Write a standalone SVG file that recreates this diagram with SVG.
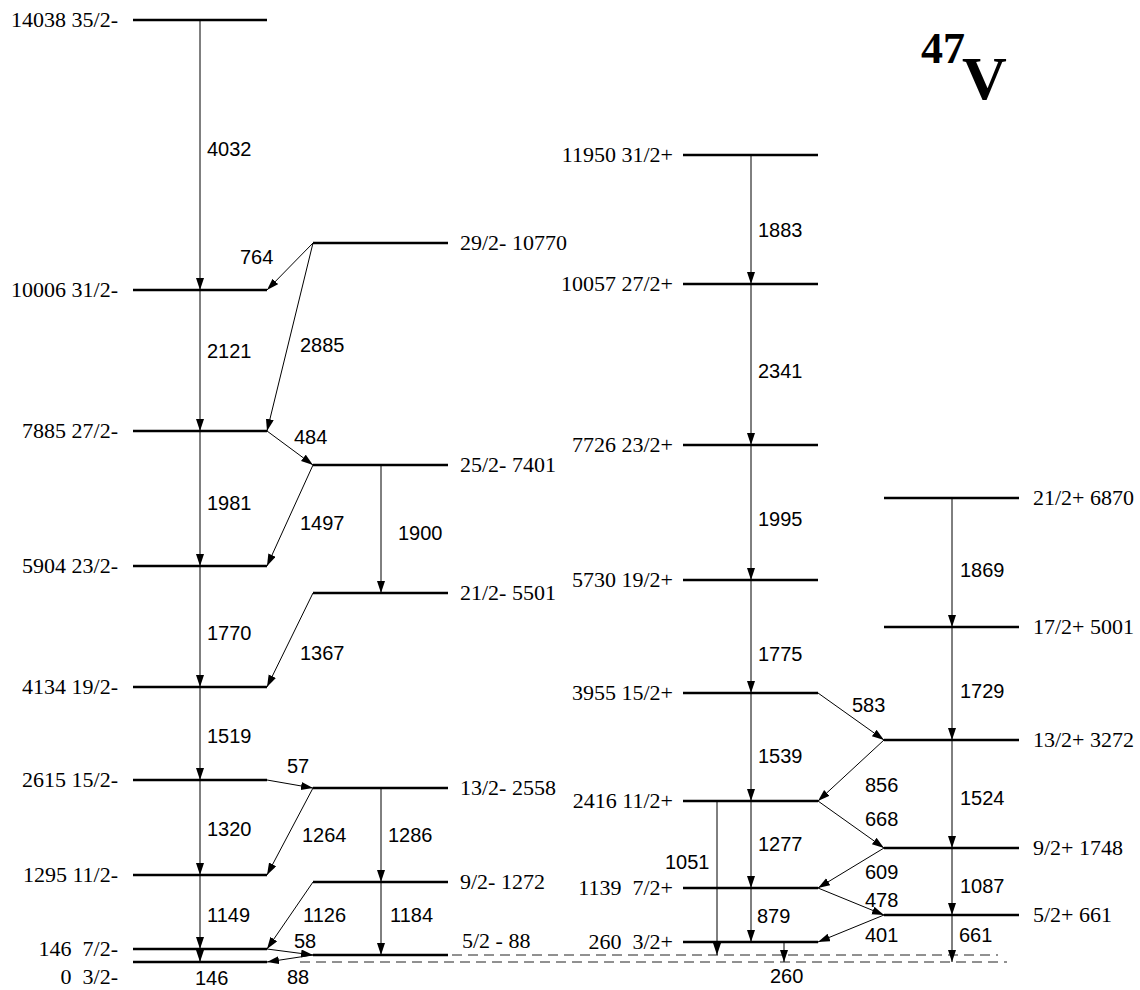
<svg xmlns="http://www.w3.org/2000/svg" width="1140" height="990" viewBox="0 0 1140 990">
<style>
.lv{stroke:#000;stroke-width:2.5;fill:none}
.g{stroke:#000;stroke-width:1;fill:none;marker-end:url(#ah)}
.d{stroke:#222;stroke-width:1;stroke-dasharray:10,6;fill:none}
.t{font-family:"Liberation Serif","Times New Roman",serif;font-size:22px;fill:#000}
.e{text-anchor:end}
.n{font-family:"Liberation Sans",Arial,sans-serif;font-size:20px;fill:#000}
</style>
<defs>
<marker id="ah" markerUnits="userSpaceOnUse" markerWidth="14" markerHeight="10" refX="12" refY="4" orient="auto">
<path d="M0,0 L12,4 L0,8 Z" fill="#000"/>
</marker>
</defs>
<rect width="1140" height="990" fill="#fff"/>
<g id="title">
<text x="921" y="63" font-family="Liberation Serif,serif" font-weight="bold" font-size="44">47</text>
<text x="962" y="99" font-family="Liberation Serif,serif" font-weight="bold" font-size="62">V</text>
</g>
<g id="levels-left">
<g id="L14038"><line class="lv" x1="133" y1="20" x2="267" y2="20"/><text class="t e" x="118" y="27">14038 35/2-</text></g>
<g id="L10006"><line class="lv" x1="133" y1="290" x2="267" y2="290"/><text class="t e" x="118" y="297">10006 31/2-</text></g>
<g id="L7885"><line class="lv" x1="133" y1="431" x2="267" y2="431"/><text class="t e" x="118" y="438">7885 27/2-</text></g>
<g id="L5904"><line class="lv" x1="133" y1="566" x2="267" y2="566"/><text class="t e" x="118" y="573">5904 23/2-</text></g>
<g id="L4134"><line class="lv" x1="133" y1="687" x2="267" y2="687"/><text class="t e" x="118" y="694">4134 19/2-</text></g>
<g id="L2615"><line class="lv" x1="133" y1="780" x2="267" y2="780"/><text class="t e" x="118" y="787">2615 15/2-</text></g>
<g id="L1295"><line class="lv" x1="133" y1="875" x2="267" y2="875"/><text class="t e" x="118" y="882">1295 11/2-</text></g>
<g id="L146"><line class="lv" x1="133" y1="949" x2="267" y2="949"/><text class="t e" x="118" y="956" xml:space="preserve">146  7/2-</text></g>
<g id="L0"><line class="lv" x1="133" y1="962" x2="267" y2="962"/><text class="t e" x="118" y="984" xml:space="preserve">0  3/2-</text></g>
</g>
<g id="levels-mid">
<g id="L10770"><line class="lv" x1="313" y1="243" x2="448" y2="243"/><text class="t" x="460" y="250">29/2- 10770</text></g>
<g id="L7401"><line class="lv" x1="313" y1="465" x2="448" y2="465"/><text class="t" x="460" y="472">25/2- 7401</text></g>
<g id="L5501"><line class="lv" x1="313" y1="593" x2="448" y2="593"/><text class="t" x="460" y="600">21/2- 5501</text></g>
<g id="L2558"><line class="lv" x1="313" y1="788" x2="448" y2="788"/><text class="t" x="460" y="795">13/2- 2558</text></g>
<g id="L1272"><line class="lv" x1="313" y1="882" x2="448" y2="882"/><text class="t" x="460" y="889">9/2- 1272</text></g>
<g id="L88"><line class="lv" x1="313" y1="955" x2="448" y2="955"/><text class="t" x="462" y="948">5/2 - 88</text></g>
</g>
<g id="levels-pos">
<g id="L11950"><line class="lv" x1="683" y1="155" x2="818" y2="155"/><text class="t e" x="673" y="162">11950 31/2+</text></g>
<g id="L10057"><line class="lv" x1="683" y1="284" x2="818" y2="284"/><text class="t e" x="673" y="291">10057 27/2+</text></g>
<g id="L7726"><line class="lv" x1="683" y1="445" x2="818" y2="445"/><text class="t e" x="673" y="452">7726 23/2+</text></g>
<g id="L5730"><line class="lv" x1="683" y1="580" x2="818" y2="580"/><text class="t e" x="673" y="587">5730 19/2+</text></g>
<g id="L3955"><line class="lv" x1="683" y1="693" x2="818" y2="693"/><text class="t e" x="673" y="700">3955 15/2+</text></g>
<g id="L2416"><line class="lv" x1="683" y1="801" x2="818" y2="801"/><text class="t e" x="673" y="808">2416 11/2+</text></g>
<g id="L1139"><line class="lv" x1="683" y1="888" x2="818" y2="888"/><text class="t e" x="673" y="895" xml:space="preserve">1139  7/2+</text></g>
<g id="L260"><line class="lv" x1="683" y1="942" x2="818" y2="942"/><text class="t e" x="673" y="949" xml:space="preserve">260  3/2+</text></g>
</g>
<g id="levels-right">
<g id="L6870"><line class="lv" x1="884" y1="498" x2="1019" y2="498"/><text class="t" x="1033" y="505">21/2+ 6870</text></g>
<g id="L5001"><line class="lv" x1="884" y1="627" x2="1019" y2="627"/><text class="t" x="1033" y="634">17/2+ 5001</text></g>
<g id="L3272"><line class="lv" x1="884" y1="740" x2="1019" y2="740"/><text class="t" x="1033" y="747">13/2+ 3272</text></g>
<g id="L1748"><line class="lv" x1="884" y1="848" x2="1019" y2="848"/><text class="t" x="1033" y="855">9/2+ 1748</text></g>
<g id="L661"><line class="lv" x1="884" y1="915" x2="1019" y2="915"/><text class="t" x="1033" y="922">5/2+ 661</text></g>
</g>
<g id="dashed">
<line class="d" x1="452" y1="955" x2="998" y2="955"/>
<line class="d" x1="300" y1="962" x2="1007" y2="962"/>
</g>
<g id="connectors">
<line class="g" x1="200" y1="20" x2="200" y2="290"/>
<line class="g" x1="200" y1="290" x2="200" y2="431"/>
<line class="g" x1="200" y1="431" x2="200" y2="566"/>
<line class="g" x1="200" y1="566" x2="200" y2="687"/>
<line class="g" x1="200" y1="687" x2="200" y2="780"/>
<line class="g" x1="200" y1="780" x2="200" y2="875"/>
<line class="g" x1="200" y1="875" x2="200" y2="949"/>
<line class="g" x1="200" y1="949" x2="200" y2="962"/>
<line class="g" x1="313" y1="243" x2="267" y2="290"/>
<line class="g" x1="313" y1="243" x2="267" y2="431"/>
<line class="g" x1="267" y1="431" x2="313" y2="465"/>
<line class="g" x1="313" y1="465" x2="267" y2="566"/>
<line class="g" x1="381" y1="465" x2="381" y2="593"/>
<line class="g" x1="313" y1="593" x2="267" y2="687"/>
<line class="g" x1="267" y1="780" x2="313" y2="788"/>
<line class="g" x1="313" y1="788" x2="267" y2="875"/>
<line class="g" x1="381" y1="788" x2="381" y2="882"/>
<line class="g" x1="313" y1="882" x2="267" y2="949"/>
<line class="g" x1="381" y1="882" x2="381" y2="955"/>
<line class="g" x1="267" y1="949" x2="313" y2="955"/>
<line class="g" x1="313" y1="955" x2="267" y2="962"/>
<line class="g" x1="751" y1="155" x2="751" y2="284"/>
<line class="g" x1="751" y1="284" x2="751" y2="445"/>
<line class="g" x1="751" y1="445" x2="751" y2="580"/>
<line class="g" x1="751" y1="580" x2="751" y2="693"/>
<line class="g" x1="751" y1="693" x2="751" y2="801"/>
<line class="g" x1="751" y1="801" x2="751" y2="888"/>
<line class="g" x1="751" y1="888" x2="751" y2="942"/>
<line class="g" x1="717" y1="801" x2="717" y2="955"/>
<line class="g" x1="784" y1="942" x2="784" y2="962"/>
<line class="g" x1="818" y1="693" x2="884" y2="740"/>
<line class="g" x1="884" y1="740" x2="818" y2="801"/>
<line class="g" x1="818" y1="801" x2="884" y2="848"/>
<line class="g" x1="884" y1="848" x2="818" y2="888"/>
<line class="g" x1="818" y1="888" x2="884" y2="915"/>
<line class="g" x1="884" y1="915" x2="818" y2="942"/>
<line class="g" x1="952" y1="498" x2="952" y2="627"/>
<line class="g" x1="952" y1="627" x2="952" y2="740"/>
<line class="g" x1="952" y1="740" x2="952" y2="848"/>
<line class="g" x1="952" y1="848" x2="952" y2="915"/>
<line class="g" x1="952" y1="915" x2="952" y2="962"/>
</g>
<g id="gamma-labels">
<text class="n" x="207" y="156">4032</text>
<text class="n" x="207" y="358">2121</text>
<text class="n" x="207" y="510">1981</text>
<text class="n" x="207" y="640">1770</text>
<text class="n" x="207" y="743">1519</text>
<text class="n" x="207" y="836">1320</text>
<text class="n" x="207" y="922">1149</text>
<text class="n" x="195" y="985">146</text>
<text class="n" x="240" y="264">764</text>
<text class="n" x="300" y="352">2885</text>
<text class="n" x="294" y="444">484</text>
<text class="n" x="300" y="530">1497</text>
<text class="n" x="398" y="540">1900</text>
<text class="n" x="300" y="660">1367</text>
<text class="n" x="287" y="773">57</text>
<text class="n" x="302" y="842">1264</text>
<text class="n" x="388" y="842">1286</text>
<text class="n" x="303" y="922">1126</text>
<text class="n" x="390" y="922">1184</text>
<text class="n" x="294" y="948">58</text>
<text class="n" x="287" y="984">88</text>
<text class="n" x="758" y="237">1883</text>
<text class="n" x="758" y="378">2341</text>
<text class="n" x="758" y="526">1995</text>
<text class="n" x="758" y="661">1775</text>
<text class="n" x="758" y="763">1539</text>
<text class="n" x="758" y="851">1277</text>
<text class="n" x="757" y="923">879</text>
<text class="n" x="665" y="869">1051</text>
<text class="n" x="770" y="983">260</text>
<text class="n" x="852" y="712">583</text>
<text class="n" x="865" y="792">856</text>
<text class="n" x="865" y="826">668</text>
<text class="n" x="865" y="879">609</text>
<text class="n" x="865" y="907">478</text>
<text class="n" x="865" y="942">401</text>
<text class="n" x="960" y="577">1869</text>
<text class="n" x="960" y="698">1729</text>
<text class="n" x="960" y="805">1524</text>
<text class="n" x="960" y="893">1087</text>
<text class="n" x="959" y="942">661</text>
</g>
</svg>
